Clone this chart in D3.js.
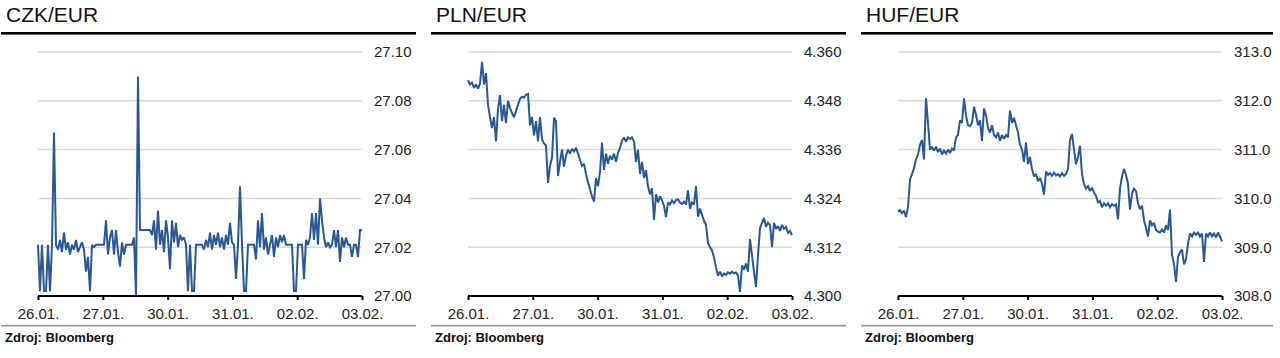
<!DOCTYPE html>
<html><head><meta charset="utf-8">
<script src="https://cdn.jsdelivr.net/npm/d3@7/dist/d3.min.js"></script>
<style>
html,body{margin:0;padding:0;background:#fff;}
svg{display:block;font-family:"Liberation Sans",Arial,sans-serif;}
</style></head>
<body>
<svg id="chart" width="1280" height="358"></svg>
<script>
const xLabels = ["26.01.","27.01.","30.01.","31.01.","02.02.","03.02."];
const titles = ["CZK/EUR","PLN/EUR","HUF/EUR"];
const sourceText = "Zdroj: Bloomberg";

const czkTicks = [27.00,27.02,27.04,27.06,27.08,27.10];
const plnTicks = [4.300,4.312,4.324,4.336,4.348,4.360];
const hufTicks = [308,309,310,311,312,313];

const czkValues = [
27.021,27.002,27.021,27.002,27.002,27.021,27.002,27.021,27.067,27.021,
27.019,27.023,27.018,27.026,27.019,27.022,27.017,27.021,27.019,27.023,
27.018,27.020,27.022,27.019,27.010,27.016,27.002,27.021,27.020,27.021,
27.021,27.021,27.021,27.021,27.031,27.017,27.024,27.027,27.017,27.027,
27.018,27.012,27.022,27.017,27.021,27.021,27.021,27.021,27.024,27.000,
27.090,27.027,27.027,27.027,27.027,27.027,27.027,27.025,27.031,27.019,
27.035,27.021,27.027,27.018,27.031,27.024,27.011,27.031,27.022,27.030,
27.020,27.025,27.023,27.024,27.021,27.002,27.021,27.002,27.002,27.021,
27.021,27.021,27.021,27.019,27.023,27.020,27.026,27.019,27.025,27.021,
27.026,27.020,27.024,27.019,27.025,27.021,27.030,27.022,27.021,27.007,
27.021,27.045,27.021,27.002,27.002,27.021,27.021,27.021,27.021,27.015,
27.031,27.020,27.034,27.019,27.024,27.017,27.021,27.025,27.016,27.024,
27.020,27.025,27.022,27.025,27.021,27.021,27.021,27.021,27.002,27.002,
27.021,27.021,27.021,27.007,27.023,27.021,27.024,27.034,27.023,27.034,
27.021,27.040,27.031,27.024,27.020,27.022,27.020,27.021,27.027,27.020,
27.027,27.014,27.024,27.020,27.024,27.021,27.021,27.016,27.021,27.021,
27.016,27.027,27.027];

const plnValues = [
4.3531,4.3520,4.3525,4.3512,4.3520,4.3510,4.3522,4.3576,4.3520,4.3548,
4.3470,4.3440,4.3413,4.3440,4.3380,4.3460,4.3494,4.3430,4.3470,4.3425,
4.3480,4.3462,4.3450,4.3440,4.3455,4.3470,4.3485,4.3490,4.3488,4.3495,
4.3497,4.3420,4.3440,4.3395,4.3430,4.3380,4.3440,4.3385,4.3375,4.3370,
4.3278,4.3320,4.3340,4.3438,4.3430,4.3295,4.3330,4.3360,4.3318,4.3345,
4.3360,4.3350,4.3362,4.3355,4.3365,4.3350,4.3335,4.3320,4.3325,4.3300,
4.3280,4.3262,4.3245,4.3232,4.3290,4.3270,4.3305,4.3377,4.3310,4.3350,
4.3325,4.3345,4.3335,4.3350,4.3330,4.3352,4.3365,4.3382,4.3390,4.3380,
4.3390,4.3386,4.3390,4.3380,4.3330,4.3360,4.3300,4.3330,4.3290,4.3310,
4.3270,4.3250,4.3265,4.3187,4.3250,4.3230,4.3245,4.3235,4.3222,4.3194,
4.3230,4.3225,4.3235,4.3228,4.3236,4.3238,4.3230,4.3226,4.3232,4.3225,
4.3260,4.3215,4.3230,4.3225,4.3270,4.3195,4.3215,4.3200,4.3185,4.3175,
4.3130,4.3120,4.3112,4.3095,4.3070,4.3050,4.3060,4.3048,4.3055,4.3052,
4.3058,4.3055,4.3060,4.3056,4.3058,4.3050,4.3010,4.3075,4.3065,4.3080,
4.3060,4.3140,4.3100,4.3060,4.3022,4.3100,4.3167,4.3180,4.3192,4.3170,
4.3180,4.3175,4.3120,4.3180,4.3165,4.3172,4.3160,4.3175,4.3165,4.3170,
4.3155,4.3160,4.3150];

const hufValues = [
309.73,309.76,309.70,309.75,309.62,309.82,310.39,310.50,310.62,310.80,
310.90,311.10,311.20,310.80,312.05,311.55,311.00,311.05,310.98,311.06,
310.95,311.02,310.90,310.98,310.92,311.00,310.93,311.02,310.98,311.25,
311.30,311.60,311.55,312.05,311.70,311.50,311.48,311.55,311.88,311.72,
311.50,311.60,311.18,311.84,311.70,311.45,311.35,311.50,311.30,311.25,
311.35,311.18,311.30,311.22,311.30,311.25,311.80,311.55,311.65,311.50,
311.35,311.10,311.00,310.75,311.15,310.70,310.85,310.60,310.45,310.50,
310.35,310.42,310.30,310.08,310.55,310.48,310.52,310.46,310.53,310.47,
310.50,310.45,310.52,310.46,310.50,310.60,311.20,311.32,311.00,310.70,
310.85,311.08,310.50,310.30,310.20,310.25,310.15,310.22,310.12,310.05,
309.92,309.95,309.82,309.90,309.85,309.90,309.82,309.88,309.85,309.88,
309.57,310.20,310.45,310.60,310.48,310.30,309.77,310.10,310.20,310.15,
309.90,309.78,309.85,309.55,309.40,309.22,309.55,309.45,309.50,309.35,
309.32,309.30,309.36,309.30,309.45,309.35,309.77,308.85,308.65,308.29,
308.80,308.90,308.95,308.65,308.75,309.08,309.28,309.22,309.30,309.25,
309.30,309.22,309.28,308.70,309.28,309.22,309.30,309.22,309.28,309.20,
309.30,309.22,309.12];

const panels = [
  {title: titles[0], values: czkValues, ticks: czkTicks, fmt: d3.format(".2f")},
  {title: titles[1], values: plnValues, ticks: plnTicks, fmt: d3.format(".3f")},
  {title: titles[2], values: hufValues, ticks: hufTicks, fmt: d3.format(".1f")}
];

const svg = d3.select("#chart");
const panelStep = 430;
const plotL = 38, plotR = 362, plotT = 52, plotB = 296;
const lineColor = "#2a5891";

panels.forEach((p, k) => {
  const g = svg.append("g").attr("transform", `translate(${k * panelStep},0)`);
  const panelRight = k === 2 ? 413 : 416;

  g.append("text").attr("x", 6).attr("y", 22)
    .attr("font-size", 21).attr("fill", "#111").text(p.title);
  g.append("rect").attr("x", 1).attr("y", 32).attr("width", panelRight - 1).attr("height", 2.6).attr("fill", "#000");

  const x = d3.scaleLinear().domain([0, p.values.length - 1]).range([plotL, plotR]);
  const xt = d3.scalePoint().domain(xLabels).range([plotL, plotR]);
  const y = d3.scaleLinear().domain([p.ticks[0], p.ticks[p.ticks.length - 1]]).range([plotB, plotT]);

  g.append("g").selectAll("line").data(p.ticks.slice(1)).join("line")
    .attr("x1", plotL).attr("x2", plotR)
    .attr("y1", d => y(d)).attr("y2", d => y(d))
    .attr("stroke", "#d9d9d9").attr("stroke-width", 1.5);

  g.append("g").selectAll("text").data(p.ticks).join("text")
    .attr("x", plotR + 12).attr("y", d => y(d) + 5.3)
    .attr("font-size", 15).attr("fill", "#222")
    .text(d => p.fmt(d));

  const line = d3.line().x((d, i) => x(i)).y(d => y(d)).curve(d3.curveLinear);
  g.append("path").datum(p.values).attr("d", line)
    .attr("fill", "none").attr("stroke", lineColor).attr("stroke-width", 2)
    .attr("stroke-linejoin", "miter").attr("stroke-miterlimit", 2);

  const ax = g.append("g").attr("transform", `translate(0,${plotB})`)
    .call(d3.axisBottom(xt).tickSize(4).tickPadding(8));
  ax.select(".domain").attr("stroke", "#000").attr("stroke-width", 2.2)
    .attr("d", `M${plotL},0H${plotR}`);
  ax.selectAll(".tick line").attr("stroke", "#000").attr("stroke-width", 2);
  ax.selectAll(".tick text").attr("font-size", 15).attr("fill", "#222")
    .attr("font-family", "Liberation Sans, Arial, sans-serif");

  g.append("rect").attr("x", 1).attr("y", 324.8).attr("width", panelRight - 1).attr("height", 1.7).attr("fill", "#999");
  g.append("text").attr("x", 5).attr("y", 342)
    .attr("font-size", 13).attr("font-weight", "bold").attr("fill", "#111").text(sourceText);
});
</script>
</body></html>
